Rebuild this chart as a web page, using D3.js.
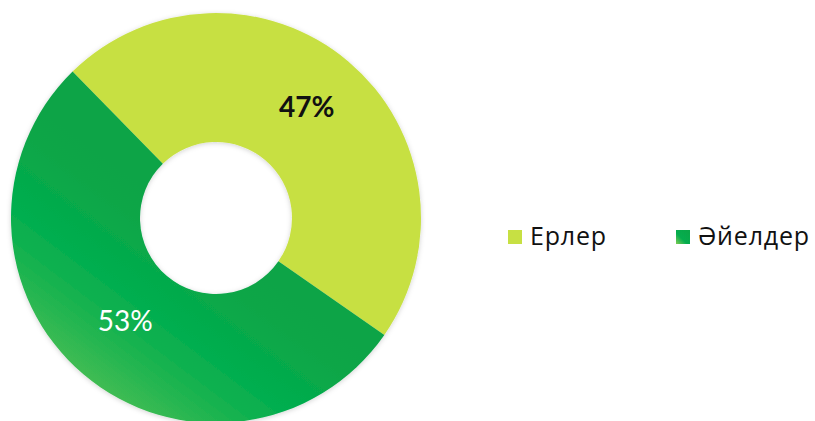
<!DOCTYPE html>
<html>
<head>
<meta charset="utf-8">
<script src="https://cdn.jsdelivr.net/npm/d3@7"></script>
<style>
  html, body { margin: 0; padding: 0; background: #fff; }
  svg { display: block; }
</style>
</head>
<body>
<svg id="chart" width="815" height="421"></svg>
<script>
// Gender split
const categories = ["Ерлер", "Әйелдер"];
const values = [47, 53];
const valueLabels = ["47%", "53%"];

const width = 815, height = 421;
const cx = 216, cy = 218;
const outerR = 205, innerR = 76;
const startAngle = -0.775;

const svg = d3.select("#chart");
const defs = svg.append("defs");

// Soft shadow around the ring
const shadow = defs.append("filter").attr("id", "ringShadow")
  .attr("x", "-10%").attr("y", "-10%").attr("width", "120%").attr("height", "120%");
shadow.append("feDropShadow")
  .attr("dx", 0).attr("dy", 1).attr("stdDeviation", 2.5)
  .attr("flood-color", "#000").attr("flood-opacity", 0.18);

// Diagonal gradient for the second slice, light at the lower-left rim
// (coordinates are relative to the ring centre)
const grad = defs.append("linearGradient").attr("id", "womenGrad")
  .attr("gradientUnits", "userSpaceOnUse")
  .attr("x1", -170).attr("y1", 170).attr("x2", -38).attr("y2", -6);
[[0, "#5cc354"], [0.15, "#40bc52"], [0.3, "#27b651"], [0.45, "#10b14f"],
 [0.57, "#03ae4f"], [0.72, "#06aa4b"], [0.86, "#0aa647"], [1, "#0ba446"]]
  .forEach(([o, c]) => grad.append("stop").attr("offset", o).attr("stop-color", c));

const legendGrad = defs.append("linearGradient").attr("id", "legendGrad")
  .attr("x1", "0%").attr("y1", "100%").attr("x2", "100%").attr("y2", "0%");
legendGrad.append("stop").attr("offset", "0%").attr("stop-color", "#7fcc55");
legendGrad.append("stop").attr("offset", "40%").attr("stop-color", "#05ad4e");
legendGrad.append("stop").attr("offset", "100%").attr("stop-color", "#0aa546");

const fills = ["#c7e043", "url(#womenGrad)"];
const legendFills = ["#c7e043", "url(#legendGrad)"];
const labelColors = ["#111", "#fff"];
const labelWeights = [700, 400];

const pie = d3.pie().sort(null)
  .startAngle(startAngle).endAngle(startAngle + 2 * Math.PI);
const arcs = pie(values);
const arc = d3.arc().innerRadius(innerR).outerRadius(outerR);
const labelArc = d3.arc().innerRadius((innerR + outerR) / 2).outerRadius((innerR + outerR) / 2);

const g = svg.append("g").attr("transform", `translate(${cx},${cy})`);
const ring = g.append("g").attr("filter", "url(#ringShadow)");
ring.selectAll("path").data(arcs).join("path")
  .attr("d", arc)
  .attr("fill", (d, i) => fills[i]);

g.selectAll("text.val").data(arcs).join("text")
  .attr("class", "val")
  .attr("transform", d => `translate(${labelArc.centroid(d)})`)
  .attr("text-anchor", "middle")
  .attr("dy", "0.22em")
  .attr("font-family", "Lato, 'Open Sans', sans-serif")
  .attr("font-size", 28)
  .attr("font-weight", (d, i) => labelWeights[i])
  .attr("fill", (d, i) => labelColors[i])
  .text((d, i) => valueLabels[i]);

// Legend
const legendX = [508, 676];
const legend = svg.append("g").attr("transform", "translate(0,237)");
const items = legend.selectAll("g").data(categories).join("g")
  .attr("transform", (d, i) => `translate(${legendX[i]},0)`);
items.append("rect")
  .attr("x", 0).attr("y", -7).attr("width", 14).attr("height", 14)
  .attr("fill", (d, i) => legendFills[i]);
items.append("text")
  .attr("x", 22).attr("dy", "0.33em")
  .attr("font-family", "'Open Sans', Lato, sans-serif")
  .attr("font-size", 25)
  .attr("font-weight", 400)
  .attr("letter-spacing", 0.8)
  .attr("fill", "#111")
  .text(d => d);
</script>
</body>
</html>
